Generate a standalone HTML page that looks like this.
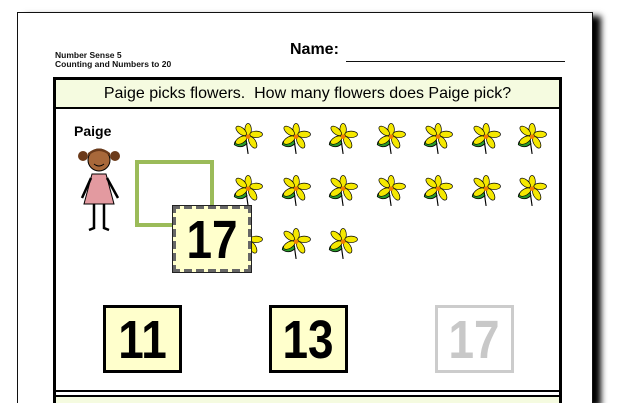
<!DOCTYPE html>
<html><head><style>
html,body{margin:0;width:631px;height:403px;overflow:hidden;background:#fff}
body{font-family:"Liberation Sans",sans-serif;position:relative}
.abs{position:absolute}
.page{left:17px;top:12px;width:576px;height:391px;border:1.5px solid #111;border-bottom:none;background:#fff;box-shadow:8px 4px 6px #000;box-sizing:border-box}
.num{font-weight:bold;text-align:center;box-sizing:border-box}
.num span{display:inline-block;transform:scaleX(0.85)}
</style></head><body>
<div class="abs page"></div>
<div class="abs" style="left:55px;top:51px;font-size:8.5px;font-weight:bold;line-height:9px;color:#111">Number Sense 5<br>Counting and Numbers to 20</div>
<div class="abs" style="left:290px;top:41px;font-size:16px;font-weight:bold">Name:</div>
<div class="abs" style="left:346px;top:61px;width:219px;border-top:1.5px solid #111"></div>
<div class="abs" style="left:53px;top:77px;width:509px;height:326px;border:3px solid #000;border-bottom:none;box-sizing:border-box"></div>
<div class="abs" style="left:56px;top:80px;width:503px;height:27px;background:#f5fbe0;border-bottom:2px solid #000;font-size:16px;text-align:center;line-height:27px">Paige picks flowers.&nbsp; How many flowers does Paige pick?</div>
<div class="abs" style="left:56px;top:390px;width:503px;height:2px;background:#000"></div>
<div class="abs" style="left:56px;top:395px;width:503px;height:8px;background:#f5fbe0;border-top:2px solid #000"></div>
<div class="abs" style="left:74px;top:123px;font-size:14px;font-weight:bold">Paige</div>
<svg class="abs" style="left:74px;top:146px" width="52" height="90" viewBox="0 0 52 90">
<circle cx="9" cy="10" r="5" fill="#6b3a1a"/><circle cx="41" cy="10" r="5" fill="#6b3a1a"/>
<circle cx="25" cy="14" r="11" fill="#a8683a" stroke="#000"/>
<path d="M14 10 Q25 0 36 10 L36 7 Q25 -2 14 7Z" fill="#6b3a1a"/>
<path d="M20 18 Q25 22 30 18" stroke="#000" fill="none"/>
<path d="M18 28 L32 28 L40 58 L10 58Z" fill="#e39aa0" stroke="#000"/>
<path d="M17 32 L8 52 M33 32 L44 52 M20 58 L20 82 L15 84 M30 58 L30 82 L35 84" stroke="#000" stroke-width="2.5" fill="none"/>
</svg>
<svg width="0" height="0" style="position:absolute"><defs><g id="f" transform="scale(1.15)">
<path d="M12 12 L14 26" stroke="#000" stroke-width="1"/>
<path d="M12 14 Q2 12 2 18 Q8 22 13 17Z" fill="#2a9a2a" stroke="#000" stroke-width=".7"/>
<g fill="#f5e800" stroke="#000" stroke-width=".6">
<ellipse cx="14" cy="5" rx="2.8" ry="5.5"/><ellipse cx="21" cy="9" rx="5.5" ry="2.8"/><ellipse cx="18" cy="16" rx="2.8" ry="5.5" transform="rotate(-30 18 16)"/><ellipse cx="8" cy="14" rx="5.5" ry="2.8" transform="rotate(-30 8 14)"/><ellipse cx="8" cy="6" rx="5.5" ry="2.8" transform="rotate(40 8 6)"/></g>
<circle cx="14" cy="11" r="2" fill="#f08000"/></g></defs></svg>
<svg class="abs" style="left:0;top:0" width="631" height="403">
<g transform="translate(232,124)"><use href="#f"/></g><g transform="translate(280,124)"><use href="#f"/></g><g transform="translate(327,124)"><use href="#f"/></g><g transform="translate(375,124)"><use href="#f"/></g><g transform="translate(422,124)"><use href="#f"/></g><g transform="translate(470,124)"><use href="#f"/></g><g transform="translate(516,124)"><use href="#f"/></g>
<g transform="translate(232,176)"><use href="#f"/></g><g transform="translate(280,176)"><use href="#f"/></g><g transform="translate(327,176)"><use href="#f"/></g><g transform="translate(375,176)"><use href="#f"/></g><g transform="translate(422,176)"><use href="#f"/></g><g transform="translate(470,176)"><use href="#f"/></g><g transform="translate(516,176)"><use href="#f"/></g>
<g transform="translate(232,229)"><use href="#f"/></g><g transform="translate(280,229)"><use href="#f"/></g><g transform="translate(327,229)"><use href="#f"/></g>
</svg>
<div class="abs" style="left:135px;top:160px;width:79px;height:67px;border:4px solid #9bbb59;box-sizing:border-box"></div>
<div class="abs num" style="left:172px;top:205px;width:80px;height:68px;background:#ffffcc;border:4px dashed #666;outline:1.5px solid #222;outline-offset:-1px;font-size:54px;line-height:62px"><span>17</span></div>
<div class="abs num" style="left:103px;top:305px;width:79px;height:68px;background:#ffffcc;border:3px solid #000;font-size:54px;line-height:64px"><span>11</span></div>
<div class="abs num" style="left:269px;top:305px;width:79px;height:68px;background:#ffffcc;border:3px solid #000;font-size:54px;line-height:64px"><span>13</span></div>
<div class="abs num" style="left:435px;top:305px;width:79px;height:68px;background:#fff;border:3px solid #ccc;color:#c8c8c8;font-size:54px;line-height:64px"><span>17</span></div>
</body></html>
